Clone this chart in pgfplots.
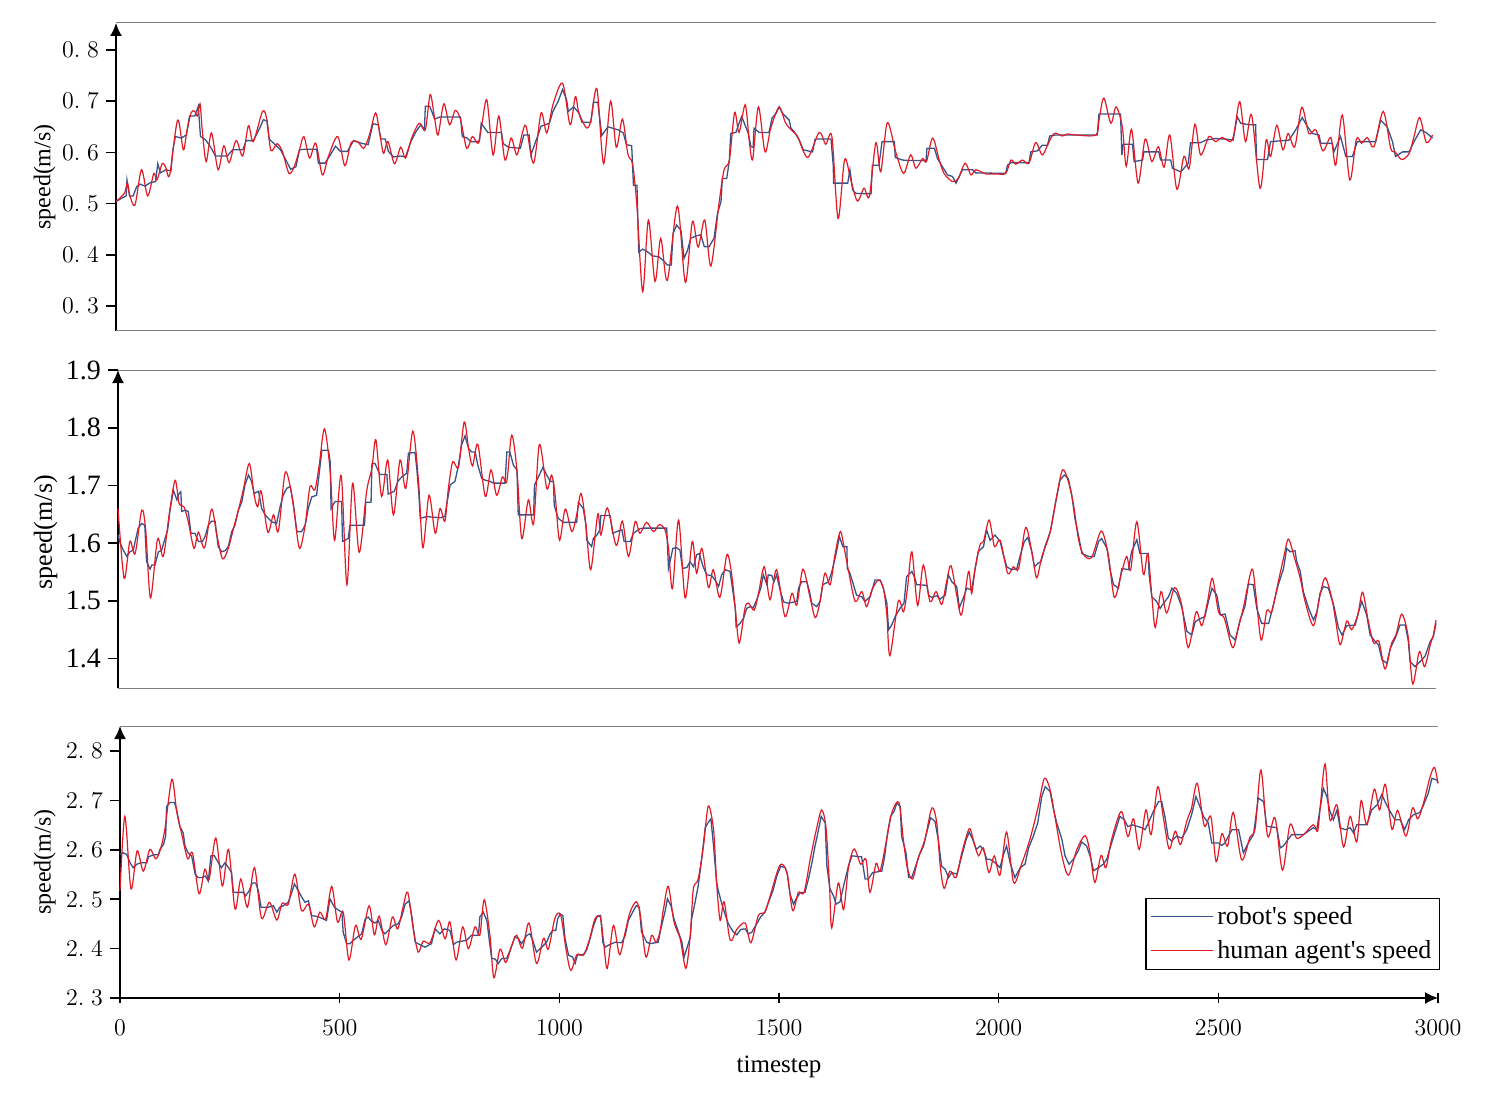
\documentclass[border=0pt]{standalone}
\usepackage{fontspec}
\setmainfont{Liberation Serif}
\usepackage{pgfplots}
\pgfplotsset{compat=1.18}
\usetikzlibrary{arrows.meta}
\definecolor{robot}{RGB}{52,84,140}
\definecolor{human}{RGB}{226,26,38}
\pgfplotsset{
  panel/.style={
    scale only axis, clip=false,
    xmin=0, xmax=3000,
    axis y line=left,
    y axis line style={line width=0.8pt,-{Latex[length=6.5pt,width=6pt]}},
    tick align=outside, major tick length=5pt,
    tick style={black, line width=0.8pt},
    minor tick num=0,
  },
  robotline/.style={color=robot, line width=0.65pt, no marks},
  humanline/.style={color=human, line width=0.6pt, no marks, smooth, tension=0.5},
}
\begin{document}
\begin{tikzpicture}
\path[use as bounding box] (0,0) rectangle (745.5pt,546.5pt);

% ---------------- panel 1 ----------------
\begin{axis}[panel,
  at={(58pt,381pt)}, anchor=south west,
  width=660pt, height=154pt,
  axis x line=none,
  ymin=0.2512, ymax=0.8527,
  ytick={0.3,0.4,0.5,0.6,0.7,0.8},
  yticklabels={$0.\;3$,$0.\;4$,$0.\;5$,$0.\;6$,$0.\;7$,$0.\;8$},
  yticklabel style={font=\fontsize{11.5}{13}\selectfont},
  ylabel={speed(m/s)},
  ylabel style={font=\fontsize{12}{14}\selectfont, at={(axis description cs:-0.054,0.5)}, anchor=center},
]
\draw[gray, line width=0.5pt] (rel axis cs:0,1) -- (rel axis cs:1,1);
\draw[gray, line width=0.5pt] (rel axis cs:0,0) -- (rel axis cs:1,0);
\addplot[robotline] coordinates {(0,0.504)(12,0.510)(23,0.515)(25,0.546)(31,0.515)(39,0.515)(47,0.533)(55,0.538)(66,0.534)(78,0.541)(90,0.543)(95,0.578)(101,0.560)(113,0.566)(125,0.564)(129,0.604)(135,0.631)(148,0.628)(160,0.634)(167,0.671)(179,0.671)(187,0.690)(192,0.631)(203,0.625)(214,0.612)(226,0.593)(253,0.593)(265,0.605)(288,0.605)(296,0.623)(312,0.623)(327,0.648)(335,0.664)(343,0.661)(348,0.626)(362,0.615)(374,0.605)(386,0.585)(397,0.567)(409,0.572)(417,0.605)(428,0.606)(456,0.606)(460,0.579)(475,0.579)(487,0.595)(499,0.612)(510,0.602)(526,0.602)(540,0.623)(557,0.618)(573,0.615)(584,0.656)(596,0.654)(602,0.626)(612,0.626)(619,0.602)(631,0.591)(647,0.593)(658,0.591)(670,0.621)(682,0.641)(693,0.654)(701,0.644)(703,0.690)(713,0.690)(719,0.677)(724,0.665)(736,0.669)(783,0.669)(787,0.631)(798,0.628)(806,0.621)(826,0.621)(830,0.657)(845,0.639)(876,0.639)(880,0.617)(892,0.610)(919,0.608)(927,0.634)(939,0.634)(943,0.595)(950,0.612)(958,0.631)(966,0.651)(985,0.657)(993,0.680)(1005,0.700)(1015,0.723)(1024,0.703)(1028,0.680)(1040,0.689)(1052,0.677)(1059,0.659)(1079,0.659)(1085,0.698)(1095,0.698)(1104,0.633)(1118,0.650)(1141,0.644)(1153,0.638)(1160,0.615)(1172,0.613)(1176,0.536)(1184,0.536)(1188,0.405)(1197,0.411)(1208,0.406)(1219,0.398)(1234,0.396)(1246,0.387)(1253,0.380)(1262,0.380)(1266,0.441)(1274,0.458)(1284,0.448)(1291,0.393)(1299,0.409)(1306,0.432)(1318,0.437)(1329,0.439)(1337,0.416)(1348,0.416)(1359,0.432)(1367,0.481)(1375,0.504)(1378,0.549)(1388,0.549)(1394,0.585)(1397,0.637)(1409,0.639)(1416,0.657)(1422,0.670)(1428,0.657)(1437,0.637)(1443,0.611)(1448,0.610)(1450,0.647)(1462,0.639)(1484,0.639)(1491,0.667)(1500,0.676)(1507,0.689)(1515,0.676)(1530,0.663)(1534,0.647)(1541,0.641)(1553,0.624)(1562,0.605)(1583,0.601)(1589,0.626)(1625,0.626)(1630,0.575)(1631,0.540)(1663,0.540)(1668,0.566)(1674,0.527)(1681,0.520)(1716,0.519)(1719,0.575)(1734,0.575)(1741,0.621)(1769,0.621)(1771,0.590)(1788,0.585)(1803,0.584)(1841,0.584)(1843,0.608)(1860,0.608)(1867,0.588)(1878,0.572)(1890,0.556)(1901,0.553)(1909,0.540)(1920,0.559)(1924,0.566)(1947,0.566)(1954,0.560)(2022,0.559)(2026,0.575)(2034,0.580)(2075,0.580)(2079,0.601)(2094,0.603)(2105,0.614)(2117,0.614)(2122,0.632)(2136,0.634)(2230,0.634)(2234,0.675)(2283,0.675)(2286,0.595)(2289,0.616)(2310,0.616)(2314,0.582)(2333,0.585)(2336,0.601)(2370,0.601)(2374,0.585)(2397,0.585)(2401,0.569)(2420,0.562)(2437,0.579)(2442,0.619)(2465,0.619)(2477,0.624)(2499,0.627)(2522,0.626)(2539,0.624)(2548,0.670)(2556,0.657)(2575,0.654)(2590,0.654)(2592,0.586)(2617,0.586)(2624,0.621)(2666,0.624)(2681,0.644)(2696,0.668)(2708,0.650)(2719,0.637)(2734,0.634)(2738,0.618)(2764,0.618)(2768,0.601)(2783,0.631)(2795,0.592)(2810,0.592)(2821,0.621)(2863,0.621)(2874,0.663)(2889,0.650)(2901,0.621)(2908,0.592)(2924,0.601)(2939,0.601)(2950,0.621)(2965,0.644)(2977,0.639)(2992,0.628)};
\addplot[humanline] coordinates {(0,0.504)(19,0.520)(26,0.540)(31,0.517)(43,0.497)(58,0.566)(72,0.515)(86,0.559)(93,0.546)(105,0.578)(113,0.571)(122,0.556)(140,0.663)(153,0.605)(161,0.641)(171,0.678)(179,0.680)(185,0.671)(191,0.695)(196,0.644)(205,0.582)(217,0.638)(232,0.566)(245,0.613)(257,0.580)(273,0.623)(288,0.593)(301,0.652)(312,0.621)(333,0.680)(343,0.664)(352,0.604)(366,0.617)(378,0.602)(393,0.559)(405,0.572)(417,0.605)(427,0.631)(440,0.589)(454,0.618)(469,0.556)(483,0.593)(504,0.631)(520,0.574)(534,0.618)(549,0.621)(563,0.608)(576,0.634)(590,0.677)(600,0.634)(608,0.598)(618,0.621)(633,0.578)(647,0.610)(658,0.589)(672,0.628)(689,0.657)(703,0.644)(714,0.713)(724,0.667)(732,0.634)(745,0.695)(758,0.654)(771,0.682)(783,0.664)(797,0.608)(810,0.631)(823,0.618)(832,0.657)(843,0.702)(857,0.595)(870,0.671)(884,0.585)(898,0.628)(911,0.595)(923,0.636)(932,0.651)(949,0.579)(966,0.677)(979,0.638)(993,0.693)(1015,0.735)(1032,0.654)(1044,0.709)(1052,0.677)(1069,0.648)(1079,0.661)(1093,0.724)(1108,0.578)(1124,0.700)(1137,0.610)(1151,0.665)(1163,0.598)(1171,0.585)(1176,0.566)(1184,0.494)(1197,0.328)(1210,0.468)(1225,0.348)(1238,0.432)(1253,0.350)(1276,0.495)(1294,0.346)(1310,0.465)(1323,0.415)(1338,0.468)(1352,0.378)(1371,0.504)(1382,0.566)(1394,0.585)(1406,0.678)(1416,0.639)(1430,0.693)(1439,0.624)(1447,0.587)(1460,0.689)(1475,0.601)(1488,0.647)(1507,0.688)(1522,0.657)(1538,0.641)(1549,0.631)(1572,0.590)(1598,0.639)(1613,0.616)(1627,0.631)(1641,0.471)(1656,0.586)(1670,0.546)(1685,0.505)(1700,0.530)(1712,0.514)(1727,0.619)(1738,0.562)(1753,0.658)(1772,0.601)(1790,0.559)(1806,0.595)(1818,0.569)(1833,0.588)(1842,0.582)(1856,0.628)(1871,0.585)(1882,0.559)(1901,0.543)(1914,0.549)(1930,0.579)(1943,0.556)(1954,0.566)(1977,0.558)(2000,0.558)(2022,0.559)(2034,0.585)(2045,0.577)(2060,0.585)(2075,0.579)(2090,0.619)(2105,0.595)(2117,0.614)(2132,0.637)(2151,0.632)(2162,0.636)(2181,0.634)(2227,0.634)(2234,0.663)(2245,0.706)(2261,0.657)(2273,0.689)(2287,0.650)(2296,0.573)(2308,0.645)(2323,0.540)(2339,0.626)(2354,0.582)(2369,0.611)(2382,0.571)(2395,0.634)(2411,0.528)(2427,0.592)(2439,0.569)(2452,0.655)(2465,0.595)(2484,0.631)(2499,0.621)(2514,0.629)(2533,0.621)(2541,0.637)(2554,0.699)(2567,0.621)(2581,0.673)(2600,0.530)(2614,0.624)(2624,0.592)(2638,0.653)(2652,0.605)(2664,0.637)(2679,0.611)(2695,0.688)(2711,0.637)(2727,0.644)(2743,0.603)(2761,0.629)(2772,0.575)(2787,0.673)(2804,0.546)(2819,0.626)(2831,0.618)(2844,0.629)(2859,0.611)(2880,0.680)(2897,0.608)(2907,0.601)(2922,0.586)(2939,0.598)(2950,0.631)(2963,0.668)(2978,0.619)(2992,0.634)};
\end{axis}

% ---------------- panel 2 ----------------
\begin{axis}[panel,
  at={(59pt,202.5pt)}, anchor=south west,
  width=659pt, height=159pt,
  axis x line=none,
  ymin=1.349, ymax=1.9,
  ytick={1.4,1.5,1.6,1.7,1.8,1.9},
  yticklabels={1.4,1.5,1.6,1.7,1.8,1.9},
  yticklabel style={font=\fontsize{14}{16}\selectfont},
  ylabel={speed(m/s)},
  ylabel style={font=\fontsize{13}{15}\selectfont, at={(axis description cs:-0.055,0.49)}, anchor=center},
]
\draw[gray, line width=0.5pt] (rel axis cs:0,1) -- (rel axis cs:1,1);
\draw[gray, line width=0.5pt] (rel axis cs:0,0) -- (rel axis cs:1,0);
\addplot[robotline] coordinates {(0,1.614)(5,1.600)(12,1.588)(20,1.577)(27,1.585)(35,1.588)(40,1.606)(46,1.626)(54,1.634)(61,1.631)(65,1.568)(73,1.555)(77,1.562)(84,1.562)(92,1.585)(99,1.587)(107,1.608)(113,1.623)(118,1.655)(126,1.692)(134,1.675)(139,1.686)(143,1.689)(145,1.655)(153,1.657)(160,1.655)(166,1.617)(175,1.617)(183,1.603)(192,1.603)(198,1.611)(206,1.632)(213,1.638)(221,1.638)(228,1.594)(236,1.585)(244,1.587)(251,1.594)(259,1.620)(266,1.631)(274,1.657)(282,1.672)(289,1.701)(297,1.718)(304,1.707)(310,1.686)(320,1.690)(327,1.660)(335,1.649)(342,1.643)(350,1.637)(361,1.634)(369,1.663)(376,1.683)(384,1.695)(392,1.698)(399,1.669)(407,1.620)(418,1.620)(426,1.631)(433,1.660)(441,1.680)(452,1.683)(458,1.721)(464,1.761)(479,1.761)(483,1.741)(485,1.660)(494,1.672)(509,1.672)(511,1.603)(524,1.608)(528,1.631)(561,1.631)(564,1.671)(576,1.671)(578,1.738)(585,1.738)(596,1.719)(612,1.719)(615,1.685)(629,1.690)(637,1.707)(646,1.715)(657,1.721)(661,1.756)(676,1.757)(680,1.730)(685,1.683)(688,1.643)(703,1.646)(733,1.644)(744,1.646)(748,1.666)(756,1.701)(767,1.707)(775,1.735)(782,1.770)(790,1.786)(798,1.764)(805,1.758)(813,1.758)(819,1.735)(828,1.712)(836,1.709)(847,1.707)(855,1.704)(881,1.704)(885,1.758)(892,1.758)(900,1.735)(908,1.727)(911,1.649)(946,1.649)(948,1.701)(957,1.715)(967,1.731)(976,1.718)(984,1.707)(991,1.707)(993,1.665)(1002,1.643)(1014,1.636)(1044,1.636)(1048,1.671)(1059,1.660)(1065,1.632)(1067,1.605)(1078,1.594)(1082,1.608)(1090,1.614)(1097,1.623)(1099,1.648)(1120,1.648)(1126,1.617)(1135,1.620)(1147,1.623)(1152,1.603)(1166,1.603)(1173,1.617)(1188,1.625)(1196,1.626)(1249,1.626)(1253,1.556)(1263,1.591)(1272,1.592)(1279,1.588)(1285,1.556)(1295,1.558)(1302,1.568)(1310,1.559)(1317,1.580)(1323,1.582)(1332,1.559)(1340,1.545)(1351,1.544)(1359,1.536)(1367,1.525)(1374,1.545)(1382,1.554)(1393,1.551)(1397,1.530)(1405,1.487)(1407,1.455)(1416,1.461)(1424,1.470)(1431,1.487)(1439,1.490)(1446,1.488)(1454,1.502)(1463,1.522)(1469,1.545)(1477,1.528)(1480,1.545)(1488,1.544)(1493,1.533)(1499,1.545)(1507,1.519)(1515,1.498)(1526,1.496)(1545,1.499)(1549,1.522)(1556,1.533)(1568,1.533)(1574,1.516)(1579,1.496)(1590,1.490)(1598,1.499)(1604,1.528)(1617,1.533)(1625,1.551)(1634,1.580)(1642,1.611)(1650,1.594)(1659,1.594)(1660,1.556)(1666,1.548)(1674,1.528)(1681,1.510)(1693,1.507)(1700,1.499)(1712,1.507)(1723,1.536)(1735,1.536)(1742,1.522)(1750,1.496)(1754,1.450)(1761,1.458)(1769,1.473)(1780,1.487)(1789,1.496)(1795,1.542)(1807,1.551)(1814,1.539)(1818,1.528)(1841,1.527)(1845,1.510)(1852,1.506)(1864,1.509)(1871,1.503)(1883,1.510)(1890,1.545)(1898,1.533)(1909,1.525)(1915,1.488)(1924,1.505)(1932,1.522)(1943,1.519)(1951,1.556)(1958,1.585)(1970,1.594)(1977,1.623)(1985,1.605)(1996,1.614)(2008,1.603)(2015,1.580)(2023,1.559)(2034,1.554)(2046,1.556)(2053,1.577)(2063,1.603)(2071,1.610)(2080,1.585)(2086,1.559)(2094,1.565)(2101,1.568)(2110,1.594)(2122,1.620)(2133,1.666)(2144,1.709)(2154,1.718)(2163,1.712)(2171,1.683)(2178,1.643)(2186,1.614)(2194,1.582)(2209,1.577)(2222,1.577)(2232,1.603)(2239,1.608)(2251,1.591)(2258,1.554)(2266,1.528)(2277,1.522)(2285,1.556)(2300,1.554)(2307,1.585)(2319,1.606)(2326,1.582)(2345,1.582)(2347,1.545)(2353,1.507)(2364,1.499)(2372,1.487)(2380,1.496)(2391,1.507)(2399,1.522)(2410,1.513)(2421,1.490)(2433,1.447)(2444,1.441)(2452,1.464)(2463,1.469)(2474,1.473)(2482,1.499)(2490,1.522)(2501,1.510)(2509,1.476)(2520,1.477)(2531,1.441)(2543,1.432)(2554,1.467)(2565,1.490)(2573,1.529)(2584,1.528)(2592,1.487)(2603,1.461)(2619,1.461)(2626,1.481)(2634,1.507)(2641,1.528)(2653,1.556)(2660,1.591)(2668,1.585)(2679,1.587)(2683,1.568)(2691,1.551)(2698,1.516)(2710,1.487)(2721,1.467)(2729,1.481)(2736,1.513)(2744,1.525)(2755,1.522)(2767,1.493)(2778,1.453)(2786,1.441)(2797,1.457)(2816,1.458)(2823,1.479)(2831,1.499)(2842,1.476)(2850,1.441)(2861,1.430)(2869,1.424)(2877,1.398)(2888,1.392)(2896,1.418)(2907,1.435)(2918,1.458)(2930,1.458)(2937,1.430)(2941,1.395)(2952,1.386)(2964,1.395)(2975,1.404)(2987,1.430)(2994,1.438)(3000,1.461)};
\addplot[humanline] coordinates {(0,1.660)(14,1.539)(27,1.603)(39,1.582)(54,1.657)(63,1.623)(74,1.505)(90,1.607)(103,1.577)(117,1.652)(130,1.709)(139,1.669)(150,1.663)(160,1.637)(173,1.591)(183,1.619)(197,1.592)(213,1.659)(225,1.614)(238,1.573)(251,1.591)(263,1.626)(274,1.657)(285,1.692)(299,1.738)(310,1.683)(318,1.663)(326,1.690)(341,1.619)(354,1.649)(365,1.621)(380,1.721)(392,1.698)(401,1.655)(413,1.591)(426,1.631)(437,1.698)(448,1.692)(458,1.735)(470,1.798)(483,1.724)(493,1.605)(508,1.717)(521,1.528)(534,1.704)(549,1.584)(566,1.690)(578,1.730)(587,1.779)(600,1.681)(614,1.744)(627,1.649)(642,1.744)(655,1.695)(671,1.794)(684,1.707)(694,1.592)(708,1.683)(722,1.617)(733,1.660)(744,1.638)(752,1.695)(762,1.741)(775,1.732)(788,1.810)(798,1.764)(807,1.734)(819,1.771)(836,1.681)(849,1.727)(862,1.683)(875,1.715)(885,1.707)(896,1.787)(908,1.727)(919,1.608)(934,1.675)(946,1.634)(959,1.771)(976,1.695)(987,1.718)(995,1.683)(1005,1.605)(1018,1.659)(1033,1.620)(1044,1.649)(1054,1.686)(1065,1.632)(1076,1.554)(1092,1.650)(1099,1.614)(1114,1.661)(1134,1.596)(1148,1.638)(1162,1.577)(1177,1.637)(1188,1.617)(1203,1.636)(1219,1.620)(1232,1.632)(1245,1.623)(1253,1.591)(1262,1.521)(1276,1.640)(1291,1.505)(1307,1.603)(1317,1.548)(1329,1.591)(1344,1.523)(1355,1.554)(1370,1.506)(1386,1.580)(1397,1.545)(1405,1.487)(1414,1.427)(1427,1.487)(1435,1.496)(1448,1.484)(1458,1.513)(1471,1.559)(1484,1.502)(1499,1.554)(1518,1.473)(1534,1.513)(1545,1.493)(1559,1.555)(1574,1.510)(1587,1.471)(1598,1.499)(1609,1.548)(1621,1.528)(1632,1.580)(1644,1.620)(1653,1.591)(1663,1.551)(1678,1.499)(1693,1.516)(1704,1.490)(1716,1.519)(1731,1.536)(1742,1.522)(1750,1.476)(1757,1.405)(1776,1.499)(1788,1.481)(1797,1.522)(1807,1.585)(1820,1.492)(1833,1.562)(1848,1.499)(1862,1.516)(1875,1.494)(1886,1.533)(1896,1.561)(1909,1.510)(1920,1.476)(1936,1.551)(1943,1.513)(1951,1.556)(1962,1.597)(1970,1.603)(1983,1.640)(1995,1.594)(2008,1.605)(2025,1.548)(2038,1.559)(2050,1.556)(2066,1.627)(2080,1.585)(2091,1.540)(2103,1.577)(2122,1.620)(2137,1.683)(2150,1.727)(2163,1.707)(2175,1.666)(2186,1.608)(2197,1.581)(2216,1.575)(2238,1.621)(2254,1.580)(2268,1.506)(2285,1.551)(2296,1.577)(2305,1.554)(2319,1.637)(2334,1.546)(2344,1.582)(2353,1.510)(2361,1.454)(2374,1.516)(2387,1.479)(2405,1.523)(2421,1.493)(2436,1.419)(2454,1.481)(2467,1.457)(2480,1.499)(2491,1.539)(2505,1.481)(2518,1.470)(2537,1.419)(2550,1.453)(2562,1.490)(2581,1.555)(2590,1.510)(2602,1.432)(2615,1.483)(2626,1.481)(2641,1.533)(2653,1.574)(2664,1.607)(2678,1.574)(2691,1.539)(2702,1.499)(2721,1.457)(2736,1.510)(2748,1.540)(2763,1.504)(2772,1.464)(2782,1.424)(2797,1.465)(2808,1.450)(2822,1.476)(2833,1.515)(2846,1.464)(2858,1.427)(2870,1.430)(2884,1.382)(2899,1.427)(2909,1.441)(2922,1.477)(2936,1.441)(2947,1.356)(2962,1.412)(2974,1.386)(2987,1.424)(2994,1.441)(3000,1.467)};
\end{axis}

% ---------------- panel 3 ----------------
\begin{axis}[panel,
  at={(60pt,47.5pt)}, anchor=south west,
  width=659pt, height=136pt,
  axis x line=bottom,
  x axis line style={line width=0.8pt,-{Latex[length=6.5pt,width=6pt]}},
  ymin=2.3, ymax=2.851,
  ytick={2.3,2.4,2.5,2.6,2.7,2.8},
  yticklabels={$2.\;3$,$2.\;4$,$2.\;5$,$2.\;6$,$2.\;7$,$2.\;8$},
  yticklabel style={font=\fontsize{12}{14}\selectfont},
  xtick={0,500,1000,1500,2000,2500,3000},
  xticklabels={$0$,$500$,$1000$,$1500$,$2000$,$2500$,$3000$},
  xticklabel style={font=\fontsize{13}{15}\selectfont, yshift=-5pt},
  xlabel={timestep},
  xlabel style={font=\fontsize{12.5}{15}\selectfont, at={(axis description cs:0.5,-0.254)}, anchor=center},
  ylabel={speed(m/s)},
  ylabel style={font=\fontsize{12}{14}\selectfont, at={(axis description cs:-0.057,0.5)}, anchor=center},
  legend style={at={(rel axis cs:1.0015,0.103)}, anchor=south east, draw=black, line width=0.6pt,
    font=\fontsize{13}{15}\selectfont, inner xsep=2pt, inner ysep=2pt, row sep=2.5pt,
    cells={anchor=west}},
  legend image code/.code={\draw[#1] (0pt,0pt) -- (31pt,0pt);},
]
\draw[gray, line width=0.5pt] (rel axis cs:0,1) -- (rel axis cs:1,1);
\addplot[robotline] coordinates {(0,2.591)(7,2.594)(15,2.591)(23,2.574)(30,2.564)(38,2.571)(48,2.574)(61,2.574)(65,2.586)(76,2.590)(87,2.590)(91,2.601)(99,2.611)(104,2.628)(106,2.688)(114,2.696)(124,2.696)(129,2.681)(136,2.648)(144,2.634)(148,2.608)(155,2.594)(163,2.588)(171,2.551)(178,2.544)(187,2.544)(194,2.547)(201,2.537)(207,2.588)(215,2.588)(224,2.574)(231,2.564)(239,2.574)(247,2.564)(254,2.554)(258,2.514)(281,2.514)(286,2.507)(294,2.517)(301,2.533)(309,2.533)(315,2.517)(321,2.484)(338,2.484)(349,2.487)(357,2.474)(364,2.484)(372,2.487)(383,2.494)(391,2.514)(397,2.531)(406,2.517)(412,2.507)(421,2.494)(429,2.497)(436,2.467)(450,2.465)(463,2.460)(470,2.457)(478,2.501)(488,2.484)(499,2.477)(505,2.474)(508,2.433)(516,2.410)(523,2.410)(531,2.417)(550,2.430)(558,2.460)(565,2.464)(571,2.457)(580,2.452)(588,2.457)(596,2.437)(603,2.430)(611,2.437)(622,2.447)(633,2.450)(641,2.464)(649,2.490)(658,2.497)(664,2.467)(672,2.413)(683,2.408)(694,2.403)(709,2.410)(717,2.440)(728,2.430)(738,2.440)(751,2.437)(759,2.408)(766,2.413)(789,2.417)(800,2.427)(816,2.427)(819,2.464)(827,2.474)(835,2.457)(842,2.407)(846,2.380)(854,2.379)(861,2.370)(869,2.380)(880,2.380)(888,2.397)(899,2.424)(907,2.420)(914,2.410)(926,2.427)(933,2.430)(941,2.413)(948,2.393)(960,2.403)(971,2.413)(979,2.430)(985,2.437)(992,2.437)(996,2.460)(1002,2.470)(1008,2.467)(1013,2.420)(1021,2.387)(1030,2.383)(1036,2.370)(1041,2.387)(1055,2.388)(1062,2.397)(1070,2.420)(1077,2.444)(1085,2.464)(1094,2.467)(1099,2.413)(1104,2.403)(1114,2.408)(1127,2.413)(1142,2.412)(1150,2.427)(1157,2.457)(1167,2.474)(1175,2.487)(1182,2.484)(1187,2.434)(1199,2.413)(1206,2.410)(1225,2.413)(1231,2.440)(1241,2.477)(1246,2.501)(1254,2.487)(1261,2.460)(1271,2.434)(1279,2.413)(1284,2.383)(1290,2.400)(1298,2.423)(1301,2.460)(1309,2.494)(1316,2.527)(1324,2.581)(1332,2.645)(1339,2.656)(1345,2.663)(1351,2.608)(1358,2.534)(1362,2.517)(1370,2.490)(1377,2.470)(1385,2.450)(1395,2.435)(1404,2.428)(1413,2.439)(1423,2.440)(1430,2.430)(1438,2.433)(1449,2.450)(1458,2.464)(1468,2.474)(1476,2.494)(1486,2.517)(1495,2.547)(1504,2.567)(1514,2.564)(1519,2.551)(1525,2.511)(1533,2.490)(1539,2.501)(1548,2.513)(1559,2.514)(1567,2.541)(1575,2.574)(1582,2.608)(1590,2.641)(1596,2.668)(1605,2.655)(1609,2.567)(1616,2.521)(1624,2.507)(1630,2.490)(1639,2.495)(1647,2.527)(1658,2.567)(1666,2.588)(1688,2.586)(1696,2.541)(1703,2.541)(1713,2.554)(1734,2.557)(1740,2.584)(1747,2.634)(1754,2.668)(1762,2.678)(1768,2.695)(1776,2.688)(1779,2.628)(1789,2.594)(1795,2.544)(1802,2.544)(1810,2.564)(1820,2.591)(1829,2.608)(1835,2.631)(1845,2.665)(1855,2.658)(1863,2.618)(1870,2.567)(1878,2.561)(1886,2.544)(1893,2.554)(1905,2.551)(1916,2.588)(1926,2.621)(1933,2.636)(1941,2.621)(1949,2.601)(1958,2.608)(1965,2.601)(1973,2.581)(1980,2.581)(1992,2.574)(2003,2.564)(2011,2.591)(2018,2.608)(2026,2.574)(2037,2.544)(2049,2.564)(2060,2.571)(2068,2.604)(2079,2.628)(2089,2.655)(2098,2.708)(2106,2.728)(2117,2.718)(2125,2.681)(2132,2.655)(2144,2.621)(2151,2.588)(2160,2.571)(2170,2.581)(2181,2.598)(2189,2.616)(2200,2.608)(2208,2.588)(2216,2.558)(2227,2.564)(2238,2.571)(2246,2.581)(2257,2.614)(2269,2.648)(2276,2.668)(2286,2.661)(2294,2.647)(2303,2.651)(2326,2.645)(2333,2.641)(2341,2.655)(2352,2.678)(2364,2.698)(2371,2.698)(2379,2.665)(2386,2.624)(2394,2.618)(2405,2.628)(2417,2.624)(2428,2.641)(2439,2.671)(2449,2.708)(2458,2.688)(2466,2.668)(2477,2.655)(2485,2.614)(2500,2.614)(2508,2.609)(2515,2.614)(2523,2.628)(2531,2.641)(2546,2.641)(2557,2.594)(2568,2.614)(2580,2.631)(2591,2.705)(2603,2.698)(2610,2.648)(2633,2.645)(2641,2.604)(2648,2.608)(2656,2.618)(2667,2.631)(2694,2.631)(2705,2.638)(2716,2.645)(2724,2.641)(2730,2.675)(2739,2.725)(2747,2.708)(2754,2.678)(2762,2.661)(2770,2.681)(2777,2.645)(2789,2.641)(2800,2.645)(2808,2.634)(2815,2.651)(2838,2.651)(2849,2.681)(2861,2.691)(2872,2.712)(2883,2.691)(2891,2.678)(2902,2.661)(2914,2.661)(2924,2.641)(2933,2.661)(2944,2.671)(2959,2.676)(2967,2.691)(2978,2.715)(2986,2.745)(2997,2.742)(3000,2.735)};
\addlegendentry{robot\textquotesingle s speed}
\addplot[humanline] coordinates {(0,2.517)(11,2.668)(25,2.521)(39,2.598)(53,2.557)(68,2.601)(81,2.582)(91,2.598)(102,2.641)(118,2.743)(129,2.678)(140,2.634)(154,2.582)(165,2.594)(180,2.511)(193,2.561)(203,2.541)(218,2.624)(233,2.527)(247,2.601)(262,2.480)(275,2.541)(290,2.484)(306,2.564)(322,2.462)(340,2.494)(357,2.458)(369,2.492)(383,2.490)(398,2.551)(413,2.477)(429,2.490)(442,2.444)(455,2.474)(468,2.460)(482,2.526)(495,2.454)(508,2.474)(521,2.377)(536,2.447)(549,2.419)(567,2.487)(579,2.428)(590,2.466)(605,2.408)(620,2.464)(632,2.440)(645,2.487)(655,2.514)(668,2.437)(679,2.393)(690,2.415)(706,2.412)(725,2.457)(740,2.420)(751,2.454)(765,2.377)(780,2.444)(793,2.400)(808,2.444)(819,2.427)(829,2.499)(842,2.427)(851,2.341)(865,2.399)(878,2.372)(892,2.407)(903,2.427)(916,2.401)(931,2.452)(948,2.370)(964,2.421)(975,2.399)(990,2.462)(1003,2.468)(1015,2.400)(1026,2.356)(1040,2.388)(1055,2.387)(1068,2.417)(1081,2.460)(1093,2.464)(1100,2.420)(1109,2.360)(1123,2.447)(1137,2.388)(1150,2.434)(1161,2.474)(1175,2.495)(1184,2.470)(1197,2.383)(1210,2.427)(1220,2.413)(1229,2.434)(1237,2.480)(1248,2.526)(1261,2.454)(1275,2.420)(1288,2.360)(1298,2.427)(1305,2.521)(1316,2.541)(1328,2.608)(1339,2.689)(1351,2.641)(1358,2.534)(1366,2.457)(1375,2.495)(1389,2.417)(1404,2.439)(1423,2.452)(1436,2.412)(1453,2.467)(1468,2.474)(1480,2.507)(1502,2.569)(1518,2.554)(1531,2.477)(1544,2.514)(1557,2.514)(1571,2.581)(1586,2.645)(1597,2.681)(1607,2.645)(1615,2.527)(1620,2.442)(1635,2.533)(1647,2.479)(1658,2.564)(1671,2.602)(1686,2.571)(1698,2.581)(1707,2.514)(1721,2.573)(1730,2.557)(1745,2.621)(1757,2.676)(1773,2.696)(1783,2.621)(1792,2.564)(1804,2.541)(1817,2.584)(1832,2.621)(1848,2.685)(1859,2.655)(1867,2.567)(1876,2.522)(1889,2.557)(1903,2.544)(1916,2.594)(1933,2.643)(1942,2.621)(1954,2.588)(1965,2.604)(1978,2.554)(1990,2.588)(2003,2.549)(2018,2.636)(2034,2.534)(2052,2.571)(2071,2.621)(2090,2.688)(2104,2.745)(2117,2.722)(2128,2.668)(2144,2.588)(2159,2.549)(2178,2.601)(2197,2.629)(2208,2.594)(2219,2.534)(2233,2.589)(2244,2.564)(2257,2.621)(2279,2.678)(2294,2.627)(2307,2.663)(2320,2.601)(2335,2.681)(2347,2.631)(2362,2.728)(2375,2.665)(2388,2.602)(2402,2.638)(2414,2.611)(2428,2.658)(2439,2.685)(2452,2.735)(2468,2.649)(2483,2.667)(2495,2.576)(2508,2.633)(2521,2.608)(2534,2.676)(2553,2.580)(2572,2.626)(2584,2.645)(2597,2.762)(2612,2.628)(2629,2.665)(2646,2.559)(2663,2.651)(2678,2.624)(2694,2.631)(2716,2.651)(2726,2.638)(2732,2.688)(2743,2.774)(2754,2.661)(2770,2.691)(2785,2.606)(2800,2.668)(2815,2.616)(2825,2.700)(2838,2.651)(2855,2.723)(2867,2.681)(2880,2.733)(2895,2.642)(2908,2.680)(2927,2.628)(2942,2.685)(2954,2.663)(2967,2.695)(2982,2.748)(2992,2.767)(3000,2.735)};
\addlegendentry{human agent\textquotesingle s speed}
\end{axis}
\end{tikzpicture}
\end{document}
